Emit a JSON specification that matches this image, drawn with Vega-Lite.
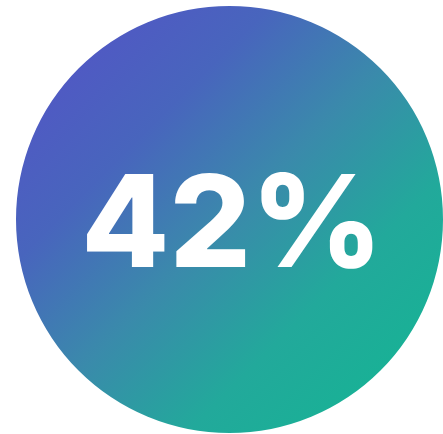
{
  "$schema": "https://vega.github.io/schema/vega-lite/v6.json",
  "width": 443,
  "height": 434,
  "autosize": {"type": "fit", "contains": "padding"},
  "padding": {"left": 16, "top": 5, "right": 0, "bottom": 0},
  "background": "white",
  "config": {"view": {"stroke": null}},
  "data": {"values": [{"value": 42, "label": "42%"}]},
  "layer": [
    {
      "mark": {
        "type": "point",
        "shape": "circle",
        "filled": true,
        "opacity": 1,
        "size": 182329,
        "color": {
          "gradient": "linear",
          "x1": 0, "y1": 0, "x2": 1, "y2": 1,
          "stops": [
            {"offset": 0, "color": "#5650c8"},
            {"offset": 0.3, "color": "#4865bd"},
            {"offset": 0.5, "color": "#3a8aab"},
            {"offset": 0.7, "color": "#22a99b"},
            {"offset": 1, "color": "#12b792"}
          ]
        }
      },
      "encoding": {}
    },
    {
      "mark": {
        "type": "text",
        "font": "Inter",
        "fontWeight": 800,
        "fontSize": 128,
        "color": "white",
        "align": "center",
        "baseline": "alphabetic",
        "dx": 2.5,
        "dy": 47
      },
      "encoding": {"text": {"field": "label", "type": "nominal"}}
    }
  ]
}
